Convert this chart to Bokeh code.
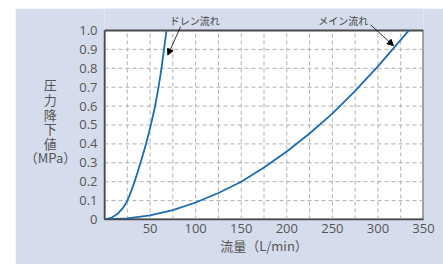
from bokeh.plotting import figure
from bokeh.models import Range1d, FixedTicker, Label, Arrow, NormalHead, Spacer
from bokeh.layouts import row, column
from bokeh.embed import file_html
from bokeh.resources import INLINE

# Data
drain_x = [0, 8, 14.5, 20, 22.8, 25, 26.8, 29.3, 33, 36.3, 39.5, 42.6, 45.5, 48.2, 50.8, 53.2, 55.5, 59.3, 62.5, 65.3, 68]
drain_y = [0, 0.01, 0.03, 0.06, 0.08, 0.1, 0.12, 0.15, 0.2, 0.25, 0.3, 0.35, 0.4, 0.45, 0.5, 0.55, 0.6, 0.7, 0.8, 0.9, 1.0]
main_x = [0, 25, 50, 75, 100, 125, 150, 175, 200, 225, 250, 275, 300, 325, 334]
main_y = [0, 0.006, 0.022, 0.05, 0.09, 0.14, 0.20, 0.275, 0.36, 0.455, 0.56, 0.68, 0.81, 0.95, 1.0]
x_ticks = [50, 100, 150, 200, 250, 300, 350]
x_grid = [25, 50, 75, 100, 125, 150, 175, 200, 225, 250, 275, 300, 325]
y_ticks = [0, 0.1, 0.2, 0.3, 0.4, 0.5, 0.6, 0.7, 0.8, 0.9, 1.0]
y_grid = [0.1, 0.2, 0.3, 0.4, 0.5, 0.6, 0.7, 0.8, 0.9]
y_tick_labels = ["0", "0.1", "0.2", "0.3", "0.4", "0.5", "0.6", "0.7", "0.8", "0.9", "1.0"]
x_title = "流量（L/min）"
y_title_chars = ["圧", "力", "降", "下", "値"]
y_title_unit = "（MPa）"
drain_name = "ドレン流れ"
main_name = "メイン流れ"

X_MIN, X_MAX = 0, 350
Y_MIN, Y_MAX = 0, 1.0

FONT = "Noto Sans CJK JP"
NUM_FONT = "Open Sans"
PANEL = "#d5dcec"
BLUE = "#1a6db5"
GREY = "#555555"
EDGE = "#4a4a4a"

p = figure(width=428, height=256, output_backend="svg", toolbar_location=None,
           x_range=Range1d(X_MIN, X_MAX), y_range=Range1d(Y_MIN, 1.1164),
           min_border_left=89, min_border_right=20, min_border_top=0, min_border_bottom=45)
p.border_fill_color = PANEL
p.background_fill_color = PANEL
p.outline_line_color = None
p.xgrid.visible = False
p.ygrid.visible = False

# white plotting box with its frame
p.quad(left=[X_MIN], right=[X_MAX], bottom=[Y_MIN], top=[Y_MAX],
       fill_color="white", line_color=EDGE, line_width=2)

# dashed grid, drawn from the grid tick lists
p.segment(x0=x_grid, y0=[Y_MIN] * len(x_grid), x1=x_grid, y1=[Y_MAX] * len(x_grid),
          line_color="#b0b0b0", line_dash="4 3", line_width=1)
p.segment(x0=[X_MIN] * len(y_grid), y0=y_grid, x1=[X_MAX] * len(y_grid), y1=y_grid,
          line_color="#b0b0b0", line_dash="4 3", line_width=1)

p.xaxis.ticker = FixedTicker(ticks=x_ticks)
p.yaxis.ticker = FixedTicker(ticks=y_ticks)
p.yaxis.bounds = (Y_MIN, Y_MAX)
p.yaxis.major_label_overrides = {v: s for v, s in zip(y_ticks, y_tick_labels)}

for ax in (p.xaxis, p.yaxis):
    ax.axis_line_color = EDGE
    ax.axis_line_width = 1.5
    ax.major_tick_line_color = None
    ax.minor_tick_line_color = None
    ax.major_tick_out = 0
    ax.major_tick_in = 0
    ax.minor_tick_out = 0
    ax.major_label_text_font = NUM_FONT
    ax.major_label_text_font_size = "13px"
    ax.major_label_text_color = GREY
    ax.axis_label_text_font = FONT
    ax.axis_label_text_font_size = "13px"
    ax.axis_label_text_font_style = "normal"
    ax.axis_label_text_color = GREY

p.xaxis.major_label_standoff = 4
p.yaxis.major_label_standoff = 7
p.xaxis.axis_label = x_title
p.xaxis.axis_label_standoff = 0
# vertical stacked title; trailing spaces centre the single characters over the unit
p.yaxis.axis_label = "\n" + "\n".join(c + "\u3000\u2002" for c in y_title_chars) + "\n" + y_title_unit
p.yaxis.axis_label_orientation = "horizontal"
p.yaxis.axis_label_standoff = 0
p.yaxis.axis_label_text_line_height = 0.77

p.line(drain_x, drain_y, line_color=BLUE, line_width=1.8)
p.line(main_x, main_y, line_color=BLUE, line_width=1.8)

p.add_layout(Arrow(end=NormalHead(size=6, fill_color="black", line_color="black"),
                   x_start=83.5, y_start=1.02, x_end=69.5, y_end=0.87,
                   line_color="black", line_width=0.8))
p.add_layout(Arrow(end=NormalHead(size=6, fill_color="black", line_color="black"),
                   x_start=292, y_start=1.03, x_end=317, y_end=0.92,
                   line_color="black", line_width=0.8))

p.add_layout(Label(x=99, y=1.053, text=drain_name, text_align="center", text_baseline="middle",
                   text_font=FONT, text_font_size="10px", text_color="#444444"))
p.add_layout(Label(x=262, y=1.053, text=main_name, text_align="center", text_baseline="middle",
                   text_font=FONT, text_font_size="10px", text_color="#444444"))

layout = column(Spacer(width=443, height=8), row(Spacer(width=15, height=256), p))
open("out.html", "w").write(file_html(layout, INLINE))
